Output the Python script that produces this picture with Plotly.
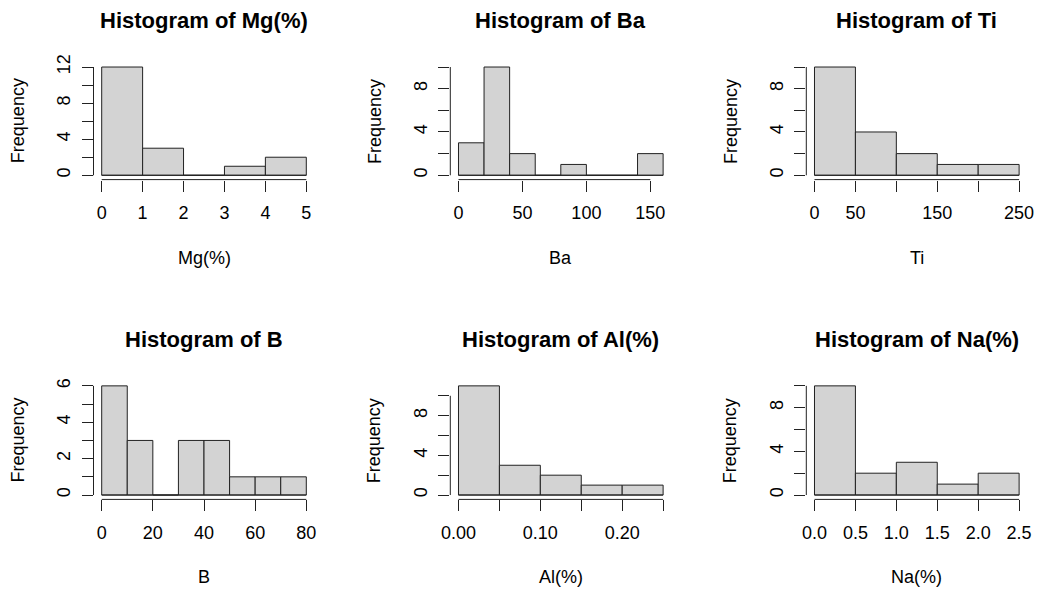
import plotly.graph_objects as go

# ---------------- data ----------------
mg_breaks = [0, 1, 2, 3, 4, 5]
mg_counts = [12, 3, 0, 1, 2]
mg_xticks = [0, 1, 2, 3, 4, 5]
mg_xlabels = ["0", "1", "2", "3", "4", "5"]
mg_yticks = [0, 2, 4, 6, 8, 10, 12]
mg_ylabels = ["0", "", "4", "", "8", "", "12"]

ba_breaks = [0, 20, 40, 60, 80, 100, 120, 140, 160]
ba_counts = [3, 10, 2, 0, 1, 0, 0, 2]
ba_xticks = [0, 50, 100, 150]
ba_xlabels = ["0", "50", "100", "150"]
ba_yticks = [0, 2, 4, 6, 8, 10]
ba_ylabels = ["0", "", "4", "", "8", ""]

ti_breaks = [0, 50, 100, 150, 200, 250]
ti_counts = [10, 4, 2, 1, 1]
ti_xticks = [0, 50, 100, 150, 200, 250]
ti_xlabels = ["0", "50", "", "150", "", "250"]
ti_yticks = [0, 2, 4, 6, 8, 10]
ti_ylabels = ["0", "", "4", "", "8", ""]

b_breaks = [0, 10, 20, 30, 40, 50, 60, 70, 80]
b_counts = [6, 3, 0, 3, 3, 1, 1, 1]
b_xticks = [0, 20, 40, 60, 80]
b_xlabels = ["0", "20", "40", "60", "80"]
b_yticks = [0, 1, 2, 3, 4, 5, 6]
b_ylabels = ["0", "", "2", "", "4", "", "6"]

al_breaks = [0.0, 0.05, 0.10, 0.15, 0.20, 0.25]
al_counts = [11, 3, 2, 1, 1]
al_xticks = [0.0, 0.05, 0.10, 0.15, 0.20, 0.25]
al_xlabels = ["0.00", "", "0.10", "", "0.20", ""]
al_yticks = [0, 2, 4, 6, 8, 10]
al_ylabels = ["0", "", "4", "", "8", ""]

na_breaks = [0.0, 0.5, 1.0, 1.5, 2.0, 2.5]
na_counts = [10, 2, 3, 1, 2]
na_xticks = [0.0, 0.5, 1.0, 1.5, 2.0, 2.5]
na_xlabels = ["0.0", "0.5", "1.0", "1.5", "2.0", "2.5"]
na_yticks = [0, 2, 4, 6, 8, 10]
na_ylabels = ["0", "", "4", "", "8", ""]

variables = ["Mg(%)", "Ba", "Ti", "B", "Al(%)", "Na(%)"]

# ---------------- layout constants ----------------
W, H = 1037, 590
FONT = "Liberation Sans, Arial, sans-serif"
COL_X = [(93.5, 314.5), (450.3, 671.3), (806.3, 1027.3)]
ROW_Y = [(62.7, 179.6), (381.5, 499.4)]
TITLE_Y = [20, 339]
XLAB_Y = [258, 577]
YLAB_OFF = 75.5

panels = [
    (mg_breaks, mg_counts, mg_xticks, mg_xlabels, mg_yticks, mg_ylabels),
    (ba_breaks, ba_counts, ba_xticks, ba_xlabels, ba_yticks, ba_ylabels),
    (ti_breaks, ti_counts, ti_xticks, ti_xlabels, ti_yticks, ti_ylabels),
    (b_breaks, b_counts, b_xticks, b_xlabels, b_yticks, b_ylabels),
    (al_breaks, al_counts, al_xticks, al_xlabels, al_yticks, al_ylabels),
    (na_breaks, na_counts, na_xticks, na_xlabels, na_yticks, na_ylabels),
]

fig = go.Figure()
layout = dict(
    width=W, height=H, margin=dict(l=0, r=0, t=0, b=0, autoexpand=False),
    paper_bgcolor="white", plot_bgcolor="white", showlegend=False,
    font=dict(family=FONT, size=18, color="black"),
    barmode="overlay",
)
shapes = []
annotations = []

for i, (breaks, counts, xt, xl, yt, yl) in enumerate(panels):
    r, c = divmod(i, 3)
    k = "" if i == 0 else str(i + 1)
    x0p, x1p = COL_X[c]
    y0p, y1p = ROW_Y[r]
    xdom = [x0p / W, x1p / W]
    ydom = [1 - y1p / H, 1 - y0p / H]
    span = breaks[-1] - breaks[0]
    xr = [breaks[0] - 0.04 * span, breaks[-1] + 0.04 * span]
    ymax = max(counts)
    yr = [-0.04 * ymax, 1.04 * ymax]

    centers = [(a + b) / 2 for a, b in zip(breaks[:-1], breaks[1:])]
    widths = [b - a for a, b in zip(breaks[:-1], breaks[1:])]
    fig.add_trace(go.Bar(
        x=centers, y=counts, width=widths,
        marker=dict(color="#D3D3D3", line=dict(color="#222222", width=1)),
        xaxis="x" + k, yaxis="y" + k, hoverinfo="skip",
    ))

    common = dict(showgrid=False, zeroline=False, showline=False,
                  automargin=False,
                  ticks="outside", ticklen=11, tickwidth=1, tickcolor="#222222",
                  tickfont=dict(family=FONT, size=18, color="black"),
                  fixedrange=True)
    layout["xaxis" + k] = dict(domain=xdom, range=xr, anchor="y" + k,
                               tickmode="array", tickvals=xt, ticktext=xl,
                               ticklabelstandoff=6, **common)
    layout["yaxis" + k] = dict(domain=ydom, range=yr, anchor="x" + k,
                               tickmode="array", tickvals=yt, ticktext=yl,
                               tickangle=-90, ticklabelstandoff=4, **common)

    # baseline of the histogram (covers empty bins)
    shapes.append(dict(type="line", xref="x" + k, yref="y" + k,
                       x0=breaks[0], x1=breaks[-1], y0=0, y1=0,
                       line=dict(color="#222222", width=1)))
    # R-style detached axis lines
    shapes.append(dict(type="line", xref="x" + k, yref="y" + k + " domain",
                       x0=xt[0], x1=xt[-1], y0=0, y1=0,
                       line=dict(color="#222222", width=1)))
    shapes.append(dict(type="line", xref="x" + k + " domain", yref="y" + k,
                       x0=0, x1=0, y0=yt[0], y1=yt[-1],
                       line=dict(color="#222222", width=1)))

    name = variables[i]
    annotations.append(dict(text="<b>Histogram of %s</b>" % name,
                            xref="paper", yref="paper",
                            x=(x0p + x1p) / 2 / W, y=1 - TITLE_Y[r] / H,
                            xanchor="center", yanchor="middle", showarrow=False,
                            font=dict(family=FONT, size=22, color="black")))
    annotations.append(dict(text=name, xref="paper", yref="paper",
                            x=(x0p + x1p) / 2 / W, y=1 - XLAB_Y[r] / H,
                            xanchor="center", yanchor="middle", showarrow=False,
                            font=dict(family=FONT, size=18, color="black")))
    annotations.append(dict(text="Frequency", xref="paper", yref="paper",
                            x=(x0p - YLAB_OFF) / W, y=1 - (y0p + y1p) / 2 / H,
                            xanchor="center", yanchor="middle", showarrow=False,
                            textangle=-90,
                            font=dict(family=FONT, size=18, color="black")))

layout["shapes"] = shapes
layout["annotations"] = annotations
fig.update_layout(**layout)
fig.write_html("out.html")
